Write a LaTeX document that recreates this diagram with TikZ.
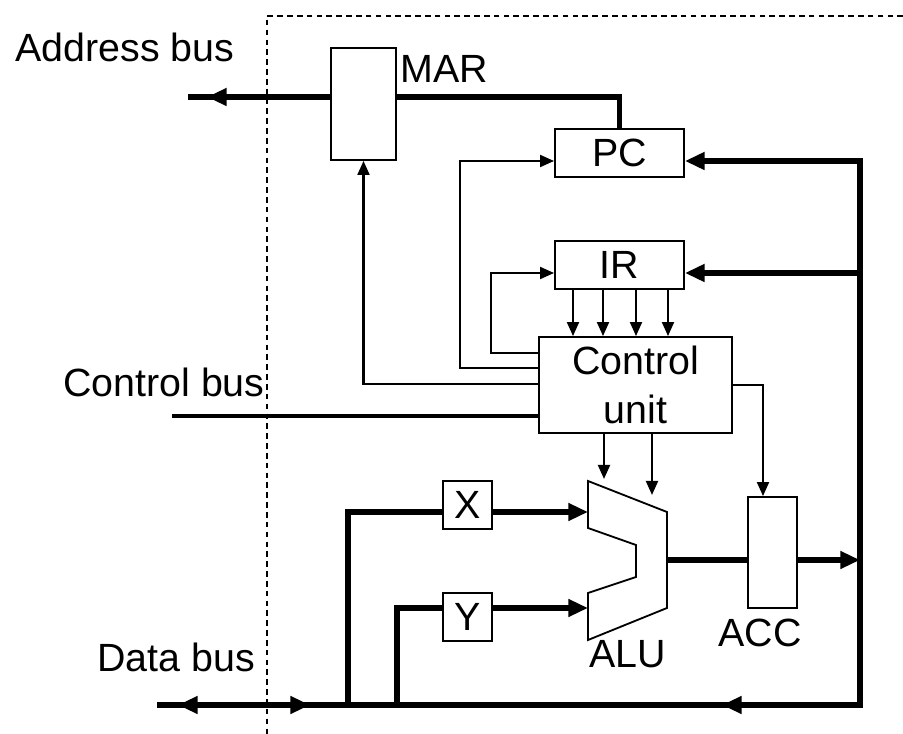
\documentclass[tikz,border=0pt]{standalone}
\usepackage{fontspec}
\setmainfont{Liberation Sans}
\usetikzlibrary{arrows.meta, positioning, calc}

\begin{document}
\begin{tikzpicture}[
    x=0.025cm, y=-0.025cm,
    every node/.style={align=center, font=\fontsize{28}{34.5}\selectfont},
    box/.style={draw, line width=1.3pt, inner sep=0pt},
    bus/.style={line width=4pt},
    sig/.style={line width=1.6pt},
    bigtip/.style={-{Triangle[length=14pt, width=12pt]}},
    smalltip/.style={-{Triangle[length=10pt, width=8.5pt]}},
    lbl/.style={inner sep=0pt, anchor=base west}
]
    \useasboundingbox (0,0) rectangle (903,734);

    % CPU frame
    \coordinate (frameNE) at (903,16);
    \coordinate (frameNW) at (267,16);
    \coordinate (frameSW) at (267,734);
    \draw[line width=0.9pt, dash pattern=on 4pt off 3pt] (frameNE) -- (frameNW) -- (frameSW);

    % Registers
    \node[box, minimum width=1.625cm, minimum height=2.8cm] (MAR) at (363.5,104) {};
    \node[box, minimum width=3.225cm, minimum height=1.2cm] (PC) at (619.5,153) {PC};
    \node[box, minimum width=3.225cm, minimum height=1.2cm] (IR) at (619.5,265) {IR};
    \node[box, minimum width=4.825cm, minimum height=2.4cm] (CU) at (635.5,385) {Control\\unit};
    \node[box, minimum width=1.225cm, minimum height=1.2cm] (X) at (467.5,505) {X};
    \node[box, minimum width=1.225cm, minimum height=1.2cm] (Y) at (467.5,617) {Y};
    \node[box, minimum width=1.225cm, minimum height=2.775cm] (ACC) at (772.5,552.5) {};

    % ALU
    \draw[line width=1.3pt] (588,481) -- (667,512) -- (667,608) -- (588,640) -- (588,593)
        -- (636,577) -- (636,545) -- (588,528) -- cycle;
    \coordinate (aluX) at (588,512);
    \coordinate (aluY) at (588,608);
    \coordinate (aluOut) at (667,560);
    \coordinate (aluC1) at (604,479);
    \coordinate (aluC2) at (652,495);

    % Labels
    \node[lbl] (addrLbl) at (15,62) {Address bus};
    \node[lbl] (marLbl) at (400,83) {MAR};
    \node[lbl] (ctrlLbl) at (63,397) {Control bus};
    \node[lbl] (dataLbl) at (97,671) {Data bus};
    \node[inner sep=0pt, anchor=base] (aluLbl) at (628,668) {ALU};
    \node[inner sep=0pt, anchor=base] (accLbl) at (760,647) {ACC};

    % Bus points
    \coordinate (abTip) at (207,97);
    \coordinate (abEnd) at (188,97);
    \coordinate (busNE) at (860,161);
    \coordinate (busIR) at (860,273);
    \coordinate (busACC) at (860,560);
    \coordinate (busSE) at (860,705);
    \coordinate (dbEnd) at (157,705);
    \coordinate (dbLeft) at (178,705);
    \coordinate (dbRight) at (310,705);
    \coordinate (dbMid) at (722,705);
    \coordinate (xFeed) at (348,705);
    \coordinate (yFeed) at (397,705);
    \coordinate (pcIn) at (460,161);
    \coordinate (irIn) at (491,273);
    \coordinate (cBusEnd) at (172,416);

    % Address bus
    \draw[bus] (MAR.west |- abTip) -- (abEnd);
    \draw[bus, bigtip] (MAR.west |- abTip) -- (abTip);
    \draw[bus] (PC.north) |- (MAR.east |- abTip);

    % Data bus
    \draw[bus, {Triangle[length=14pt, width=12pt]}-] (PC.east |- busNE) -- (busNE) -- (busSE) -- (dbEnd);
    \draw[bus, bigtip] (busSE) -- (dbMid);
    \draw[bus, bigtip] (xFeed) -- (dbLeft);
    \draw[bus, bigtip] (dbLeft) -- (dbRight);
    \draw[bus, bigtip] (busIR) -- (IR.east |- busIR);
    \draw[bus] (aluOut) -- (ACC.west |- aluOut);
    \draw[bus, bigtip] (ACC.east |- aluOut) -- (busACC);
    \draw[bus] (xFeed) |- (X.west |- aluX);
    \draw[bus, bigtip] (X.east |- aluX) -- (aluX);
    \draw[bus] (yFeed) |- (Y.west |- aluY);
    \draw[bus, bigtip] (Y.east |- aluY) -- (aluY);

    % Control signals
    \foreach \x in {573,603,636,668}
        \draw[sig, smalltip] (IR.south -| \x,0) -- (CU.north -| \x,0);
    \draw[sig, smalltip] (CU.west |- 0,353) -| (irIn) -- (IR.west |- irIn);
    \draw[sig, smalltip] (CU.west |- 0,368) -| (pcIn) -- (PC.west |- pcIn);
    \draw[sig, smalltip] (CU.west |- 0,384) -| (MAR.south);
    \draw[sig, smalltip] (CU.east |- 0,385) -| (ACC.north -| 763,0);
    \draw[sig, smalltip] (CU.south -| aluC1) -- (aluC1);
    \draw[sig, smalltip] (CU.south -| aluC2) -- (aluC2);
    \draw[line width=2.4pt] (CU.west |- cBusEnd) -- (cBusEnd);
\end{tikzpicture}
\end{document}
